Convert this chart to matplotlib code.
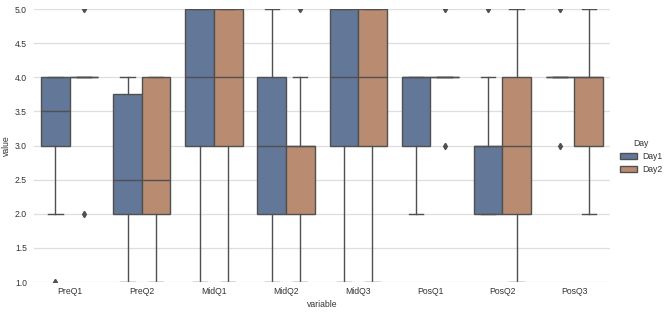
import matplotlib
matplotlib.use("Agg")
from matplotlib import pyplot as plt
from matplotlib.patches import Patch

plt.rcParams['font.family'] = ['Liberation Sans', 'DejaVu Sans']

# question groups
groups = ["PreQ1", "PreQ2", "MidQ1", "MidQ2", "MidQ3", "PosQ1", "PosQ2", "PosQ3"]
days = ["Day1", "Day2"]

# box statistics, Day1
day1_lo = [2, 1, 1, 1, 1, 2, 2, 4]
day1_q1 = [3, 2, 3, 2, 3, 3, 2, 4]
day1_med = [3.5, 2.5, 4, 3, 4, 4, 3, 4]
day1_q3 = [4, 3.75, 5, 4, 5, 4, 3, 4]
day1_hi = [4, 4, 5, 5, 5, 4, 4, 4]
day1_fliers = [[1], [], [], [], [], [], [5], [5, 3]]

# Day2
day2_lo = [4, 1, 1, 1, 1, 4, 1, 2]
day2_q1 = [4, 2, 3, 2, 3, 4, 2, 3]
day2_med = [4, 2.5, 4, 3, 4, 4, 3, 4]
day2_q3 = [4, 4, 5, 3, 5, 4, 4, 4]
day2_hi = [4, 4, 5, 4, 5, 4, 5, 5]
day2_fliers = [[5, 2], [], [], [5], [], [5, 3], [], []]

colors = ["#637799", "#b98c71"]
line_col = "#505050"


def make_stats(lo, q1, med, q3, hi, fl):
    return [dict(whislo=a, q1=b, med=c, q3=d, whishi=e, fliers=f)
            for a, b, c, d, e, f in zip(lo, q1, med, q3, hi, fl)]


stats = [make_stats(day1_lo, day1_q1, day1_med, day1_q3, day1_hi, day1_fliers),
         make_stats(day2_lo, day2_q1, day2_med, day2_q3, day2_hi, day2_fliers)]

fig = plt.figure(figsize=(6.64, 3.13), dpi=100)
ax = fig.add_axes([0.051, 0.099, 0.868, 0.872])

fs = 6.2
lw = 1.0
offsets = [-0.2, 0.2]
for k in range(2):
    pos = [i + offsets[k] for i in range(len(groups))]
    ax.bxp(stats[k], positions=pos, widths=0.392, patch_artist=True,
           boxprops=dict(facecolor=colors[k], edgecolor=line_col, linewidth=lw),
           whiskerprops=dict(color=line_col, linewidth=lw),
           capprops=dict(color=line_col, linewidth=lw),
           medianprops=dict(color=line_col, linewidth=lw),
           flierprops=dict(marker='d', markerfacecolor=line_col,
                           markeredgecolor=line_col, markersize=3.2),
           manage_ticks=False, zorder=3)

ax.set_xlim(-0.5, len(groups) - 0.5)
ax.set_ylim(1.0, 5.0)
ax.set_xticks(range(len(groups)))
ax.set_xticklabels(groups)
ax.set_yticks([1.0, 1.5, 2.0, 2.5, 3.0, 3.5, 4.0, 4.5, 5.0])
ax.set_yticklabels(["1.0", "1.5", "2.0", "2.5", "3.0", "3.5", "4.0", "4.5", "5.0"])
ax.tick_params(axis='both', length=0, labelsize=fs, colors='#333333')
ax.tick_params(axis='x', pad=3.5)
ax.tick_params(axis='y', pad=5)
ax.grid(axis='y', color='#dedede', linewidth=0.9, zorder=0)
ax.set_axisbelow(True)
for s in ax.spines.values():
    s.set_visible(False)

ax.set_xlabel("variable", fontsize=fs, color='#333333', labelpad=3)
ax.set_ylabel("value", fontsize=fs, color='#333333', labelpad=3)

handles = [Patch(facecolor=colors[k], edgecolor=line_col, linewidth=lw, label=days[k])
           for k in range(2)]
leg = fig.legend(handles=handles, title="Day", loc='center left',
                 bbox_to_anchor=(0.922, 0.5), frameon=False, fontsize=fs,
                 title_fontsize=fs, handlelength=2.0, handleheight=0.8,
                 labelspacing=0.45, handletextpad=0.6)
for t in leg.get_texts():
    t.set_color('#333333')
leg.get_title().set_color('#333333')

fig.savefig("out.png", dpi=100)
